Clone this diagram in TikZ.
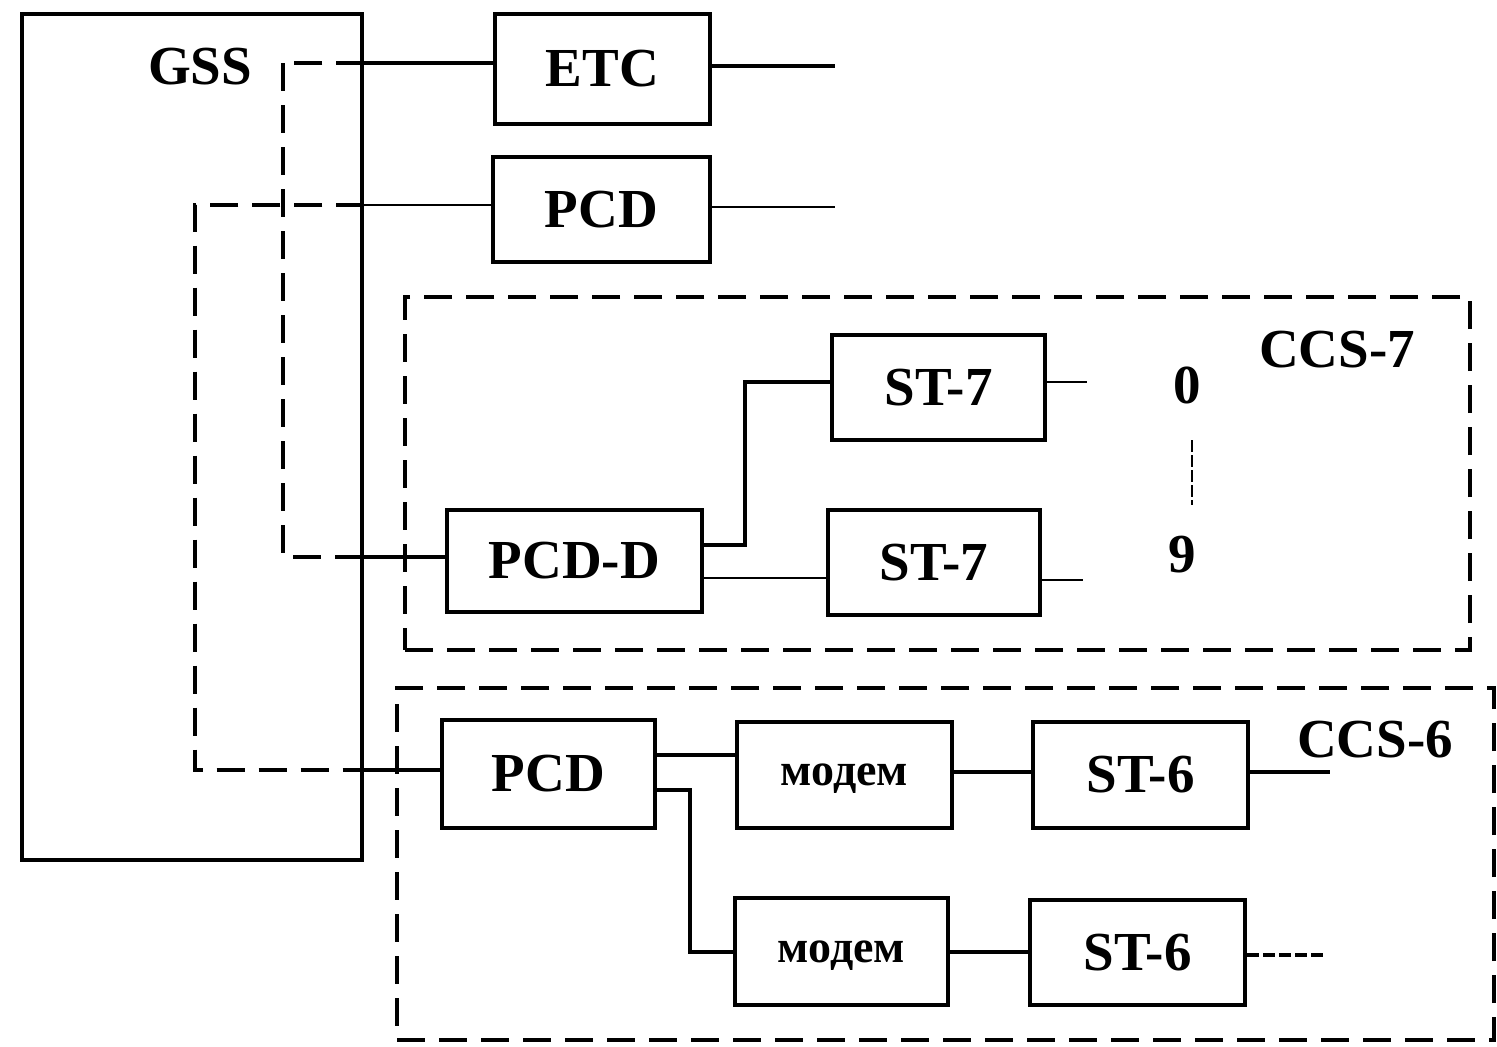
\documentclass[tikz,border=0pt]{standalone}
\usepackage{fontspec}
\setmainfont{Liberation Serif}
\begin{document}
\begin{tikzpicture}[x=0.5pt,y=-0.5pt,
  blk/.style={draw,line width=2.4pt,inner sep=0pt,font=\fontsize{27.5}{29}\selectfont\bfseries},
  mdm/.style={blk,font=\fontsize{23}{25}\selectfont\bfseries,text height=10.5pt,text depth=0pt},
  wire/.style={line width=1.8pt},
  thinwire/.style={line width=1.3pt},
  dline/.style={line width=2.4pt,dash pattern=on 14pt off 7pt},
  grp/.style={draw,line width=2.4pt,dash pattern=on 14pt off 7pt,inner sep=0pt},
  lbl/.style={inner sep=0pt,font=\fontsize{27.5}{29}\selectfont\bfseries}]
\useasboundingbox (0,0) rectangle (1497,1046);
% GSS frame
\node[draw,line width=2.4pt,inner sep=0pt,minimum width=170pt,minimum height=423pt] (GSS) at (192,437) {};
\node[lbl] (gsslbl) at (200,67) {GSS};
% groups
\node[grp,minimum width=532.5pt,minimum height=176.5pt] (ccs7) at (937.5,473.5) {};
\node[lbl] (ccs7lbl) at (1337,350) {CCS-7};
\node[grp,minimum width=548.5pt,minimum height=176pt] (ccs6) at (945.5,864) {};
\node[lbl] (ccs6lbl) at (1375,740) {CCS-6};
% blocks
\node[blk,minimum width=107.5pt,minimum height=55pt] (ETC) at (602.5,69) {ETC};
\node[blk,minimum width=108.5pt,minimum height=52.5pt] (PCDa) at (601.5,209.5) {PCD};
\node[blk,minimum width=106.5pt,minimum height=52.5pt] (STa) at (938.5,387.5) {ST-7};
\node[blk,minimum width=106pt,minimum height=52.5pt] (STb) at (934,562.5) {ST-7};
\node[blk,minimum width=127.5pt,minimum height=51pt] (PCDD) at (574.5,561) {PCD-D};
\node[blk,minimum width=106.5pt,minimum height=54pt] (PCDb) at (548.5,774) {PCD};
\node[mdm,minimum width=107.5pt,minimum height=53pt] (M1) at (844.5,775) {модем};
\node[mdm,minimum width=106.5pt,minimum height=53.5pt] (M2) at (841.5,951.5) {модем};
\node[blk,minimum width=107.5pt,minimum height=53pt] (S6a) at (1140.5,775) {ST-6};
\node[blk,minimum width=107.5pt,minimum height=52.5pt] (S6b) at (1137.5,952.5) {ST-6};
\node[lbl] (n0) at (1187,385) {0};
\node[lbl] (n9) at (1182,555) {9};
% coordinates
\coordinate (g1) at (283,63);
\coordinate (g1b) at (283,557);
\coordinate (g2) at (195,205);
\coordinate (g2b) at (195,770);
\coordinate (etcend) at (835,66);
\coordinate (pcdend) at (835,207);
\coordinate (jd) at (745,545);
\coordinate (sta_end) at (1087,382);
\coordinate (stb_end) at (1083,580);
\coordinate (dotA) at (1192,440);
\coordinate (dotB) at (1192,505);
\coordinate (jm) at (690,790);
\coordinate (s6a_end) at (1330,772);
\coordinate (s6b_end) at (1325,955);
% dashed routes inside GSS
\draw[dline] (g1) -- (g1b) -- (g1b -| GSS.east);
\draw[dline] (g1 -| GSS.east) -- (g1);
\draw[dline] (g2 -| GSS.east) -- (g2) -- (g2b) -- (g2b -| GSS.east);
% solid continuations
\draw[wire] (g1 -| GSS.east) -- (g1 -| ETC.west);
\draw[thinwire] (g2 -| GSS.east) -- (g2 -| PCDa.west);
\draw[wire] (g1b -| GSS.east) -- (g1b -| PCDD.west);
\draw[wire] (g2b -| GSS.east) -- (g2b -| PCDb.west);
% outputs top
\draw[wire] (etcend -| ETC.east) -- (etcend);
\draw[thinwire] (pcdend -| PCDa.east) -- (pcdend);
% CCS-7
\draw[wire] (jd -| PCDD.east) -- (jd) |- (STa.west |- sta_end);
\draw[thinwire] (PCDD.east |- 0,578) -- (STb.west |- 0,578);
\draw[thinwire] (sta_end -| STa.east) -- (sta_end);
\draw[thinwire] (stb_end -| STb.east) -- (stb_end);
\draw[line width=1.2pt,dash pattern=on 6pt off 1.5pt] (dotA) -- (dotB);
% CCS-6
\draw[wire] (PCDb.east |- 0,755) -- (M1.west |- 0,755);
\draw[wire] (jm -| PCDb.east) -- (jm) |- (M2.west |- 0,952);
\draw[wire] (M1.east |- 0,772) -- (S6a.west |- 0,772);
\draw[wire] (M2.east |- 0,952) -- (S6b.west |- 0,952);
\draw[wire] (s6a_end -| S6a.east) -- (s6a_end);
\draw[wire,dash pattern=on 6pt off 2pt] (s6b_end -| S6b.east) -- (s6b_end);
\end{tikzpicture}
\end{document}
